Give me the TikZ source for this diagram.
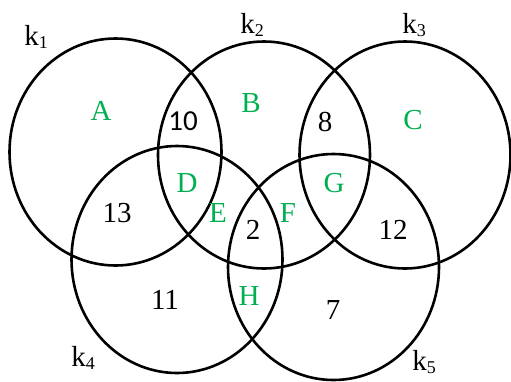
\documentclass[tikz,border=0pt]{standalone}
\usepackage{fontspec}
\setmainfont{Liberation Serif}
\newfontfamily\calfont{Carlito}
\definecolor{vgreen}{HTML}{00B050}
\newcommand{\ksub}[1]{k\raisebox{-2.5pt}{\fontsize{18}{18}\selectfont #1}}
\tikzset{
  ring/.style={draw=black, line width=2.6pt},
  lbl/.style={inner sep=0pt, font=\fontsize{29}{29}\selectfont},
  num/.style={lbl, text=black},
  zone/.style={lbl, text=vgreen},
}
\begin{document}
\begin{tikzpicture}[x=1pt,y=-1pt]
\useasboundingbox (0,0) rectangle (511,381);
\draw[ring] (115.5,152) ellipse [x radius=106pt, y radius=113.5pt];
\draw[ring] (264,155) ellipse [x radius=106pt, y radius=113.5pt];
\draw[ring] (405,155) ellipse [x radius=105.5pt, y radius=113.5pt];
\draw[ring] (177,259.5) ellipse [x radius=105.5pt, y radius=113.5pt];
\draw[ring] (333.5,267) ellipse [x radius=105.5pt, y radius=113pt];
\node[num] (k1) at (36,37) {\ksub{1}};
\node[num] (k2) at (252,25) {\ksub{2}};
\node[num] (k3) at (414,25) {\ksub{3}};
\node[num] (k4) at (83,358) {\ksub{4}};
\node[num] (k5) at (424,362) {\ksub{5}};
\node[zone] (A) at (101,111) {A};
\node[num, font=\calfont\fontsize{29}{29}\selectfont] (n10) at (183,121) {10};
\node[zone] (B) at (251,103) {B};
\node[num] (n8) at (325,122) {8};
\node[zone] (C) at (413,120) {C};
\node[zone] (D) at (187,183) {D};
\node[zone] (G) at (334,183) {G};
\node[num] (n13) at (117,213) {13};
\node[zone] (E) at (218,213) {E};
\node[num] (n2) at (253,230) {2};
\node[zone] (F) at (288,213) {F};
\node[num] (n12) at (393,230) {12};
\node[num] (n11) at (165,300) {11};
\node[zone] (H) at (249,296) {H};
\node[num] (n7) at (333,310) {7};
\end{tikzpicture}
\end{document}
